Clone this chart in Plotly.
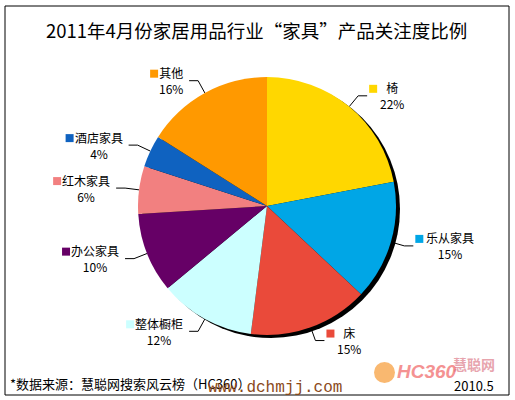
import math
import plotly.graph_objects as go

# chart data
title = '2011年4月份家居用品行业“家具”产品关注度比例'
categories = ['椅', '乐从家具', '床', '整体橱柜', '办公家具', '红木家具', '酒店家具', '其他']
shares = [22, 15, 15, 12, 10, 6, 4, 16]
colors = ['#FFD700', '#00A6E6', '#EA4A3A', '#CCFFFF', '#660066', '#F28080', '#0F62C0', '#FF9900']
source_note = '*数据来源：慧聪网搜索风云榜（HC360）'
date_note = '2010.5'
watermark = 'www.dchmjj.com'

W, H = 515, 400
cx, cy, r = 267, 206, 129      # pie centre / radius in px
font_cn = 'Noto Sans CJK SC'


def pie_domain(x0, y0):
    return dict(x=[(x0 - r) / W, (x0 + r) / W], y=[1 - (y0 + r) / H, 1 - (y0 - r) / H])


fig = go.Figure()

# drop shadow behind the pie
fig.add_trace(go.Pie(values=[1], marker=dict(colors=['#000000'], line=dict(width=0)),
                     domain=pie_domain(cx + 4, cy + 3), textinfo='none',
                     hoverinfo='skip', sort=False, showlegend=False))

# main pie
fig.add_trace(go.Pie(labels=categories, values=shares, sort=False, direction='clockwise',
                     marker=dict(colors=colors, line=dict(width=0)),
                     domain=pie_domain(cx, cy), textinfo='none', showlegend=False))

# leader lines, colour squares and labels, placed from the slice angles
total = sum(shares)
line_x, line_y = [], []
sq_x, sq_y = [], []
annotations = []
cum = 0
for name, v, col in zip(categories, shares, colors):
    mid = (cum + v / 2) / total * 2 * math.pi
    cum += v
    dx, dy = math.sin(mid), -math.cos(mid)
    ex, ey = cx + dx * r, cy + dy * r
    bx, by = cx + dx * (r + 14), cy + dy * (r + 14)
    side = 1 if dx >= 0 else -1
    tx = bx + side * 9
    line_x += [ex, bx, tx, None]
    line_y += [ey, by, by, None]
    name_w = len(name) * 12
    if side > 0:
        sq_x.append(tx + 6)
        ax, anchor = tx + 11, 'left'
    else:
        sq_x.append(tx - 4 - name_w - 7)
        ax, anchor = tx - 4, 'right'
    sq_y.append(by - 7)
    annotations.append(dict(text=f'{name}<br>{v}%', x=ax, y=by, xref='x', yref='y',
                            xanchor=anchor, yanchor='middle', align='center', showarrow=False,
                            font=dict(family=font_cn, size=12, color='#000000')))

fig.add_trace(go.Scatter(x=line_x, y=line_y, mode='lines', line=dict(color='#000000', width=1),
                         hoverinfo='skip', showlegend=False))
fig.add_trace(go.Scatter(x=sq_x, y=sq_y, mode='markers', hoverinfo='skip', showlegend=False,
                         marker=dict(symbol='square', size=8, color=colors, line=dict(width=0))))

# title and footer texts
annotations += [
    dict(text=title, x=256, y=30, xref='x', yref='y', showarrow=False,
         font=dict(family=font_cn, size=18.5, color='#000000')),
    dict(text=source_note, x=8, y=383, xref='x', yref='y', xanchor='left', showarrow=False,
         font=dict(family=font_cn, size=13, color='#000000')),
    # faded HC360 logo
    dict(text='HC360', x=395, y=371, xref='x', yref='y', xanchor='left', showarrow=False,
         opacity=0.7, font=dict(family='Liberation Sans', size=19, color='#F06464',
                                weight='bold', style='italic')),
    dict(text='慧聪网', x=451, y=364, xref='x', yref='y', xanchor='left', showarrow=False,
         opacity=0.6, font=dict(family=font_cn, size=14, color='#D86878', weight='bold')),
    dict(text=date_note, x=496, y=385, xref='x', yref='y', xanchor='right', showarrow=False,
         font=dict(family=font_cn, size=13, color='#000000')),
    dict(text=watermark, x=275, y=388, xref='x', yref='y', showarrow=False,
         font=dict(family='Liberation Mono', size=16, color='#8B4A1A')),
]

shapes = [
    dict(type='rect', x0=5, y0=6, x1=509, y1=395, xref='x', yref='y',
         line=dict(color='#000000', width=1), fillcolor='rgba(0,0,0,0)'),
    dict(type='circle', x0=374, y0=362, x1=395, y1=383, xref='x', yref='y',
         line=dict(width=0), fillcolor='#F7A040', opacity=0.75),
]

fig.update_layout(
    width=W, height=H,
    margin=dict(l=0, r=0, t=0, b=0),
    paper_bgcolor='#ffffff',
    plot_bgcolor='rgba(0,0,0,0)',
    showlegend=False,
    hovermode=False,
    xaxis=dict(range=[0, W], domain=[0, 1], visible=False, fixedrange=True),
    yaxis=dict(range=[H, 0], domain=[0, 1], visible=False, fixedrange=True),
    annotations=annotations,
    shapes=shapes,
)

# page body has a default 8px margin; drop it so the figure fills the window
fig.write_html('out.html', config={'displayModeBar': False},
               post_script="document.body.style.margin='0';")
